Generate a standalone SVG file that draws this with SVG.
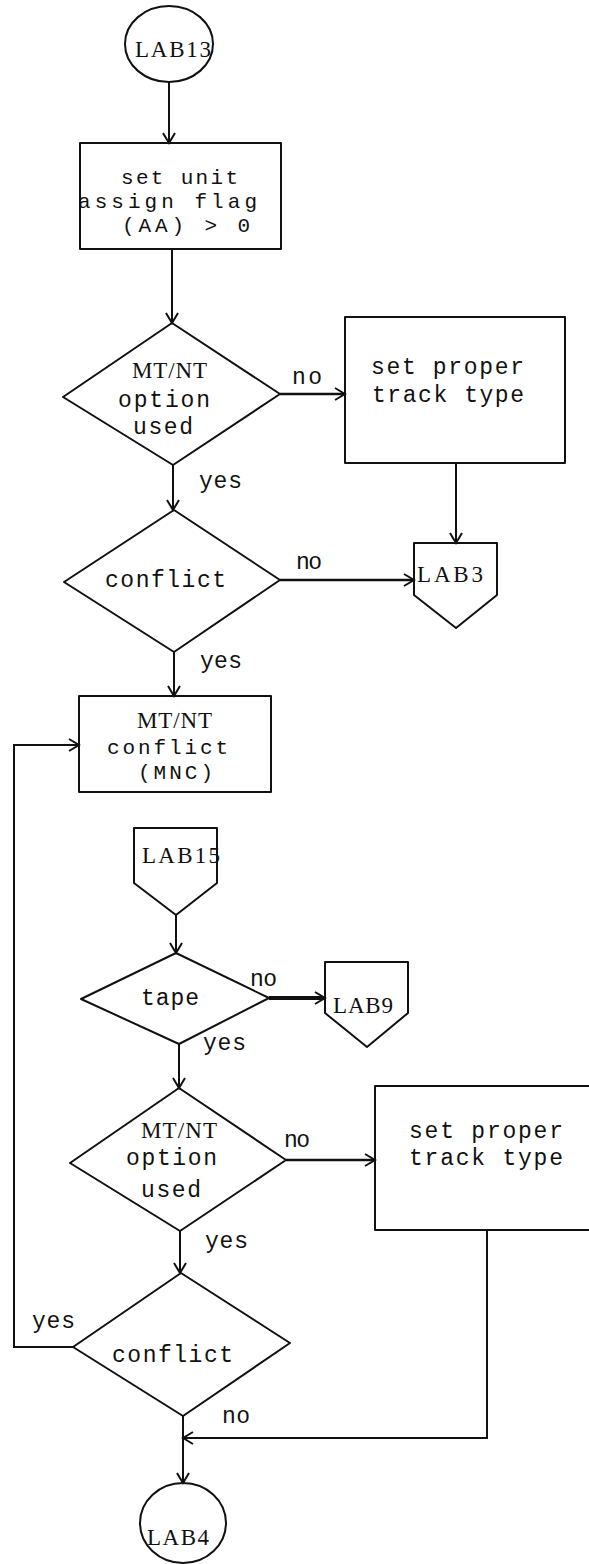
<svg xmlns="http://www.w3.org/2000/svg" width="589" height="1564" viewBox="0 0 589 1564">
  <style>
    .shape { fill: none; stroke: #111; stroke-width: 2; stroke-linejoin: round; }
    .line { fill: none; stroke: #111; stroke-width: 2; }
    .thick { stroke-width: 2.6; }
    .bold { stroke-width: 4; }
    .tw { font-family: "Liberation Mono", "DejaVu Sans Mono", monospace; font-size: 23px; fill: #111; }
    .tight { font-size: 21px; }
    .lb { font-family: "Liberation Serif", "DejaVu Serif", serif; font-size: 23px; fill: #111; }
  </style>
  <defs>
    <marker id="arr" markerWidth="14" markerHeight="14" refX="12" refY="7" orient="auto" markerUnits="userSpaceOnUse">
      <path d="M2,1 L12,7 L2,13" fill="none" stroke="#111" stroke-width="2"/>
    </marker>
  </defs>

  <g id="connectors">
    <path class="line" d="M169,82 V143" marker-end="url(#arr)"/>
    <path class="line" d="M172,249 V323" marker-end="url(#arr)"/>
    <path class="line thick" d="M280,394 H345" marker-end="url(#arr)"/>
    <path class="line" d="M173,465 V510" marker-end="url(#arr)"/>
    <path class="line thick" d="M280,580 H414" marker-end="url(#arr)"/>
    <path class="line" d="M456,463 V543" marker-end="url(#arr)"/>
    <path class="line" d="M174,652 V696" marker-end="url(#arr)"/>
    <path class="line" d="M73,1347 H14 V745 H79" marker-end="url(#arr)"/>
    <path class="line" d="M176,915 V953" marker-end="url(#arr)"/>
    <path class="line bold" d="M269,998 H325" marker-end="url(#arr)"/>
    <path class="line" d="M179,1044 V1088" marker-end="url(#arr)"/>
    <path class="line thick" d="M286,1160 H375" marker-end="url(#arr)"/>
    <path class="line" d="M180,1231 V1273" marker-end="url(#arr)"/>
    <path class="line" d="M487,1230 V1438 H183" marker-end="url(#arr)"/>
    <path class="line" d="M183,1416 V1483" marker-end="url(#arr)"/>
    <!-- branch labels -->
    <text class="tw" x="292" y="384" textLength="30">no</text>
    <text class="tw" x="199" y="488" textLength="43">yes</text>
    <text class="tw" x="296" y="569" textLength="26">no</text>
    <text class="tw" x="200" y="668" textLength="42">yes</text>
    <text class="tw" x="250" y="986" textLength="27">no</text>
    <text class="tw" x="203" y="1050" textLength="43">yes</text>
    <text class="tw" x="284" y="1147" textLength="26">no</text>
    <text class="tw" x="205" y="1248" textLength="43">yes</text>
    <text class="tw" x="32" y="1328" textLength="43">yes</text>
    <text class="tw" x="222" y="1423" textLength="28">no</text>
  </g>

  <g id="lab13">
    <ellipse class="shape" cx="169" cy="44" rx="44" ry="38"/>
    <text class="lb" x="135" y="57" textLength="76">LAB13</text>
  </g>

  <g id="set-flag">
    <rect class="shape" x="80" y="143" width="201" height="106"/>
    <text class="tw tight" x="121" y="184" textLength="117">set unit</text>
    <text class="tw tight" x="78" y="208" textLength="179">assign flag</text>
    <text class="tw tight" x="122" y="232" textLength="128">(AA) &gt; 0</text>
  </g>

  <g id="option-used-1">
    <polygon class="shape" points="172,323 280,394 173,465 63,397"/>
    <text class="lb" x="132" y="378" textLength="75">MT/NT</text>
    <text class="tw" x="118" y="407" textLength="92">option</text>
    <text class="tw" x="133" y="434" textLength="60">used</text>
  </g>

  <g id="track-type-1">
    <rect class="shape" x="345" y="317" width="220" height="146"/>
    <text class="tw" x="371" y="374" textLength="153">set proper</text>
    <text class="tw" x="372" y="402" textLength="152">track type</text>
  </g>

  <g id="conflict-1">
    <polygon class="shape" points="174,510 280,580 174,652 64,582"/>
    <text class="tw" x="105" y="587" textLength="121">conflict</text>
  </g>

  <g id="lab3">
    <polygon class="shape" points="414,543 497,543 497,595 456,628 414,595"/>
    <text class="lb" x="417" y="582" textLength="66">LAB3</text>
  </g>

  <g id="mnc">
    <rect class="shape" x="79" y="696" width="192" height="96"/>
    <text class="lb" x="137" y="728" textLength="75">MT/NT</text>
    <text class="tw tight" x="107" y="754" textLength="121">conflict</text>
    <text class="tw tight" x="138" y="779" textLength="75">(MNC)</text>
  </g>

  <g id="lab15">
    <polygon class="shape" points="134,828 217,828 217,883 176,915 134,883"/>
    <text class="lb" x="142" y="863" textLength="78">LAB15</text>
  </g>

  <g id="tape">
    <polygon class="shape" points="176,953 269,998 179,1044 81,999"/>
    <text class="tw" x="141" y="1005" textLength="58">tape</text>
  </g>

  <g id="lab9">
    <polygon class="shape" points="325,962 408,962 408,1013 367,1047 325,1013"/>
    <text class="lb" x="333" y="1013" textLength="60">LAB9</text>
  </g>

  <g id="option-used-2">
    <polygon class="shape" points="179,1088 286,1160 180,1231 70,1163"/>
    <text class="lb" x="141" y="1138" textLength="76">MT/NT</text>
    <text class="tw" x="126" y="1165" textLength="91">option</text>
    <text class="tw" x="141" y="1197" textLength="60">used</text>
  </g>

  <g id="track-type-2">
    <rect class="shape" x="375" y="1086" width="230" height="144"/>
    <text class="tw" x="409" y="1138" textLength="154">set proper</text>
    <text class="tw" x="409" y="1165" textLength="154">track type</text>
  </g>

  <g id="conflict-2">
    <polygon class="shape" points="181,1273 290,1343 183,1416 73,1347"/>
    <text class="tw" x="112" y="1362" textLength="121">conflict</text>
  </g>

  <g id="lab4">
    <ellipse class="shape" cx="183" cy="1523" rx="43" ry="40"/>
    <text class="lb" x="147" y="1545" textLength="62">LAB4</text>
  </g>
</svg>
